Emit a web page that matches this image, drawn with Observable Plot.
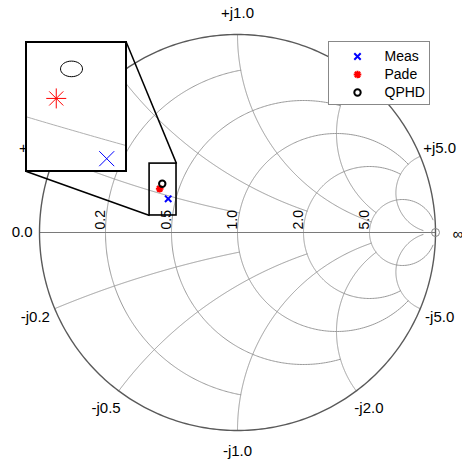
<!DOCTYPE html>
<html><head><meta charset="utf-8">
<script src="https://cdn.jsdelivr.net/npm/d3@7"></script>
<script src="https://cdn.jsdelivr.net/npm/@observablehq/plot@0.6"></script>
<style>
html,body{margin:0;padding:0;background:#fff;}
#wrap{position:relative;width:462px;height:464px;overflow:hidden;font-family:"Liberation Sans",Arial,sans-serif;}
#inset{position:absolute;border:2px solid #000;background:#fff;line-height:0;}
#legend{position:absolute;left:328px;top:41px;width:100px;height:62px;border:1px solid #888;background:#fff;line-height:0;}
</style></head><body><div id="wrap"></div>
<script>
// ---- data (reflection coefficient) ----
const series = ["Meas", "Pade", "QPHD"];
const gammaRe = [-0.350, -0.393, -0.380];
const gammaIm = [0.170, 0.221, 0.246];
const colors = ["#0000ff", "#ff0000", "#000000"];
// ---- Smith grid values and where each circle/arc is truncated ----
const gridValues = [0.2, 0.5, 1.0, 2.0, 5.0];
const gridLimits = [1.0, 2.0, 5.0, 5.0, 30];
const resLabels = ["0.2", "0.5", "1.0", "2.0", "5.0"];
const reactValues = [0.2, 0.5, 1.0, 2.0, 5.0, -0.2, -0.5, -1.0, -2.0, -5.0];
const reactLabels = ["+j0.2", "+j0.5", "+j1.0", "+j2.0", "+j5.0", "-j0.2", "-j0.5", "-j1.0", "-j2.0", "-j5.0"];
// ---- zoom annotation (chart units) ----
const zoomBox = {re: [-0.444, -0.308], im: [0.086, 0.348]};
const insetFrame = {re: [-1.066, -0.561], im: [0.308, 0.960]};
const insetView = {re: [-0.4175, -0.334], im: [0.160, 0.2675]};

const points = series.map((s, i) => ({name: s, re: gammaRe[i], im: gammaIm[i], color: colors[i]}));

function gamma(r, x) {
  const den = (r + 1) * (r + 1) + x * x;
  return [(r * r - 1 + x * x) / den, (2 * x) / den];
}
const resLines = [];
gridValues.forEach((r, i) => {
  const a = Math.atan(gridLimits[i]);
  for (let k = 0; k <= 400; k++) {
    const x = Math.tan(-a + 2 * a * k / 400);
    const g = gamma(r, x);
    resLines.push({id: "r" + i, re: g[0], im: g[1]});
  }
});
const reactLines = [];
reactValues.forEach((x, i) => {
  const rmax = gridLimits[i % 5];
  const umax = rmax / (1 + rmax);
  for (let k = 0; k <= 300; k++) {
    const u = umax * k / 300;
    const g = gamma(u / (1 - u), x);
    reactLines.push({id: "x" + i, re: g[0], im: g[1]});
  }
});
const outer = d3.range(0, 361).map(d => ({re: Math.cos(d * Math.PI / 180), im: Math.sin(d * Math.PI / 180)}));
const axisLine = [{re: -1, im: 0}, {re: 1, im: 0}];
const resLabelData = gridValues.map((r, i) => ({re: gamma(r, 0)[0], im: 0, label: resLabels[i]}));
const labelRadius = 1.106;
const reactLabelData = reactValues.map((x, i) => {
  const g = gamma(0, x);
  return {re: g[0] * labelRadius, im: g[1] * labelRadius, label: reactLabels[i]};
});

// symbols
const sym = {
  cross: {draw(c, s) { const r = Math.sqrt(s / Math.PI); c.moveTo(-r, -r); c.lineTo(r, r); c.moveTo(-r, r); c.lineTo(r, -r); }},
  star: {draw(c, s) { const r = Math.sqrt(s / Math.PI), d = r * Math.SQRT1_2;
    c.moveTo(-r, 0); c.lineTo(r, 0); c.moveTo(0, -r); c.lineTo(0, r);
    c.moveTo(-d, -d); c.lineTo(d, d); c.moveTo(-d, d); c.lineTo(d, -d); }},
  ring: {draw(c, s) { const r = Math.sqrt(s / Math.PI); c.moveTo(r, 0); c.arc(0, 0, r, 0, 2 * Math.PI); c.closePath(); }}
};
function ellipseSym(ax, ay) {
  return {draw(c, s) {
    const r = Math.sqrt(s / Math.PI), rx = r * ax, ry = r * ay, k = 0.5523;
    c.moveTo(rx, 0);
    c.bezierCurveTo(rx, ry * k, rx * k, ry, 0, ry);
    c.bezierCurveTo(-rx * k, ry, -rx, ry * k, -rx, 0);
    c.bezierCurveTo(-rx, -ry * k, -rx * k, -ry, 0, -ry);
    c.bezierCurveTo(rx * k, -ry, rx, -ry * k, rx, 0);
    c.closePath();
  }};
}
const mainSymbols = [sym.cross, sym.star, sym.ring];
const mainR = [3.2, 3.8, 3.2];

function seriesDots(symbols, rs, sw) {
  return points.map((p, i) => Plot.dot([p], {x: "re", y: "im", symbol: symbols[i], r: rs[i], stroke: colors[i], fill: "none", strokeWidth: sw}));
}

const font = '"Liberation Sans", Arial, Helvetica, sans-serif';
const chart = Plot.plot({
  width: 462, height: 464,
  marginLeft: 39, marginRight: 27, marginTop: 34, marginBottom: 34,
  x: {domain: [-1, 1], axis: null},
  y: {domain: [-1, 1], axis: null},
  style: {fontFamily: font, fontSize: "15px", background: "#fff", color: "#000"},
  marks: [
    Plot.line(resLines, {x: "re", y: "im", z: "id", stroke: "#9a9a9a", strokeWidth: 1}),
    Plot.line(reactLines, {x: "re", y: "im", z: "id", stroke: "#9a9a9a", strokeWidth: 1}),
    Plot.line(axisLine, {x: "re", y: "im", stroke: "#7a7a7a", strokeWidth: 1}),
    Plot.line(outer, {x: "re", y: "im", stroke: "#5a5a5a", strokeWidth: 1.4}),
    Plot.dot([{re: 1, im: 0}], {x: "re", y: "im", r: 4, stroke: "#888", fill: "none", strokeWidth: 1}),
    Plot.text(resLabelData, {x: "re", y: "im", text: "label", rotate: -90, textAnchor: "start", lineAnchor: "bottom", dx: -1, dy: -3, fontSize: 14}),
    Plot.text(reactLabelData, {x: "re", y: "im", text: "label", textAnchor: "middle", lineAnchor: "middle"}),
    Plot.text([{re: -1, im: 0, label: "0.0"}], {x: "re", y: "im", text: "label", textAnchor: "end", lineAnchor: "middle", dx: -7}),
    Plot.text([{re: 1, im: 0, label: "∞"}], {x: "re", y: "im", text: "label", textAnchor: "start", lineAnchor: "middle", dx: 17, dy: 2}),
    Plot.rect([zoomBox], {x1: d => d.re[0], x2: d => d.re[1], y1: d => d.im[0], y2: d => d.im[1], stroke: "#000", fill: "none", strokeWidth: 1.6}),
    Plot.link([
      {x1: insetFrame.re[1], y1: insetFrame.im[1], x2: zoomBox.re[1], y2: zoomBox.im[1]},
      {x1: insetFrame.re[0], y1: insetFrame.im[0], x2: zoomBox.re[0], y2: zoomBox.im[0]}
    ], {x1: "x1", y1: "y1", x2: "x2", y2: "y2", stroke: "#000", strokeWidth: 1.5}),
    ...seriesDots(mainSymbols, mainR, 2)
  ]
});
const wrap = document.getElementById("wrap");
wrap.appendChild(chart);

// inset (magnified view)
const sx = chart.scale("x"), sy = chart.scale("y");
const fx0 = sx.apply(insetFrame.re[0]), fx1 = sx.apply(insetFrame.re[1]);
const fy0 = sy.apply(insetFrame.im[1]), fy1 = sy.apply(insetFrame.im[0]);
const insetDiv = document.createElement("div");
insetDiv.id = "inset";
insetDiv.style.left = (fx0 - 1) + "px";
insetDiv.style.top = (fy0 - 1) + "px";
const iw = Math.round(fx1 - fx0 - 2), ih = Math.round(fy1 - fy0 - 2);
insetDiv.style.width = iw + "px";
insetDiv.style.height = ih + "px";
const inset = Plot.plot({
  width: iw, height: ih, margin: 0,
  x: {domain: insetView.re, axis: null},
  y: {domain: insetView.im, axis: null},
  style: {background: "#fff"},
  marks: [
    Plot.line(reactLines.filter(d => d.id === "x0"), {x: "re", y: "im", stroke: "#b0b0b0", strokeWidth: 1, clip: true}),
    ...seriesDots([sym.cross, sym.star, ellipseSym(1.1, 0.78)], [7.5, 10, 10], 1)
  ]
});
insetDiv.appendChild(inset);
wrap.appendChild(insetDiv);

// legend
const legDiv = document.createElement("div");
legDiv.id = "legend";
const legend = Plot.plot({
  width: 100, height: 62, margin: 0,
  y: {type: "point", domain: series, range: [13, 50], padding: 0, axis: null},
  style: {fontFamily: font, fontSize: "14px", background: "#fff", color: "#000"},
  marks: [
    ...points.map((p, i) => Plot.dot([p], {y: "name", frameAnchor: "left", dx: 28, symbol: mainSymbols[i], r: mainR[i], stroke: colors[i], fill: "none", strokeWidth: 2})),
    Plot.text(points, {y: "name", text: "name", frameAnchor: "left", dx: 55, textAnchor: "start", lineAnchor: "middle"})
  ]
});
legDiv.appendChild(legend);
wrap.appendChild(legDiv);
</script></body></html>
